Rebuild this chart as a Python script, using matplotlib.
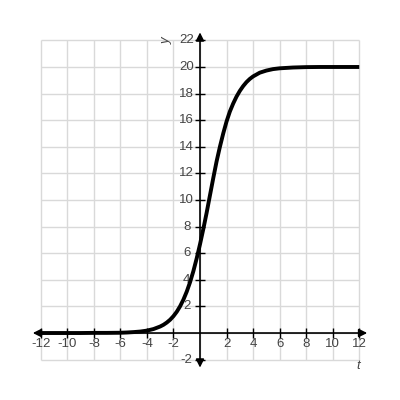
import numpy as np
import matplotlib.pyplot as plt

# values
t_vals = [-12, -11, -10, -9, -8, -7, -6, -5.5, -5, -4.5, -4, -3.5, -3, -2.75, -2.5,
          -2.25, -2, -1.75, -1.5, -1.25, -1, -0.75, -0.5, -0.25, 0, 0.25, 0.5, 0.75,
          1, 1.25, 1.5, 1.75, 2, 2.25, 2.5, 2.75, 3, 3.25, 3.5, 3.75, 4, 4.5, 5,
          5.5, 6, 7, 8, 9, 10, 11, 12]
y_vals = [0.0, 0.0, 0.0, 0.0, 0.01, 0.01, 0.02, 0.04, 0.07, 0.11, 0.18, 0.30, 0.49,
          0.62, 0.79, 1.00, 1.27, 1.60, 2.01, 2.51, 3.11, 3.82, 4.65, 5.61, 6.67,
          7.82, 9.04, 10.35, 11.65, 12.9, 14.0, 15.0, 15.9, 16.65, 17.25, 17.77,
          18.2, 18.56, 18.86, 19.10, 19.29, 19.57, 19.73, 19.84, 19.90, 19.96,
          19.99, 20.0, 20.0, 20.0, 20.0]

x_ticks = [-12, -10, -8, -6, -4, -2, 2, 4, 6, 8, 10, 12]
y_ticks = [-2, 2, 4, 6, 8, 10, 12, 14, 16, 18, 20, 22]
grid_x = list(range(-12, 13, 2))
grid_y = list(range(-2, 23, 2))

fig = plt.figure(figsize=(4, 4), dpi=100)
ax = fig.add_axes([0.082, 0.081, 0.836, 0.838])
ax.set_xlim(-12.6, 12.6)
ax.set_ylim(-2.6, 22.6)
ax.axis('off')

# grid
ax.vlines(grid_x, -2, 22, color='#d9d9d9', lw=1, zorder=1)
ax.hlines(grid_y, -12, 12, color='#d9d9d9', lw=1, zorder=1)

# axes with arrows
arrow = dict(arrowstyle='<|-|>', color='black', lw=1.2, mutation_scale=12,
             shrinkA=0, shrinkB=0)
ax.annotate('', xy=(12.6, 0), xytext=(-12.6, 0), arrowprops=arrow, zorder=3)
ax.annotate('', xy=(0, 22.6), xytext=(0, -2.6), arrowprops=arrow, zorder=3)

# tick marks
ax.plot(x_ticks, [0] * len(x_ticks), ls='none', marker='|', ms=7, mew=1, color='black', zorder=3)
ax.plot([0] * len(y_ticks), y_ticks, ls='none', marker='_', ms=7, mew=1, color='black', zorder=3)

for xt in x_ticks:
    ax.text(xt, -0.85, str(xt), ha='center', va='center', fontsize=9.5, color='#444444',
            family='Liberation Sans')
for yt in y_ticks:
    ax.text(-1.0, yt, str(yt), ha='center', va='center', fontsize=9.5, color='#444444',
            family='Liberation Sans')

ax.text(-2.5, 22.0, 'y', rotation=90, style='italic', ha='center', va='center',
        fontsize=9.5, color='#444444', family='Liberation Sans')
ax.text(11.9, -2.45, 't', style='italic', ha='center', va='center',
        fontsize=9.5, color='#444444', family='Liberation Sans')

# curve
ax.plot(t_vals, y_vals, color='black', lw=2.8, zorder=4, solid_capstyle='butt')

fig.savefig('out.png', dpi=100)
